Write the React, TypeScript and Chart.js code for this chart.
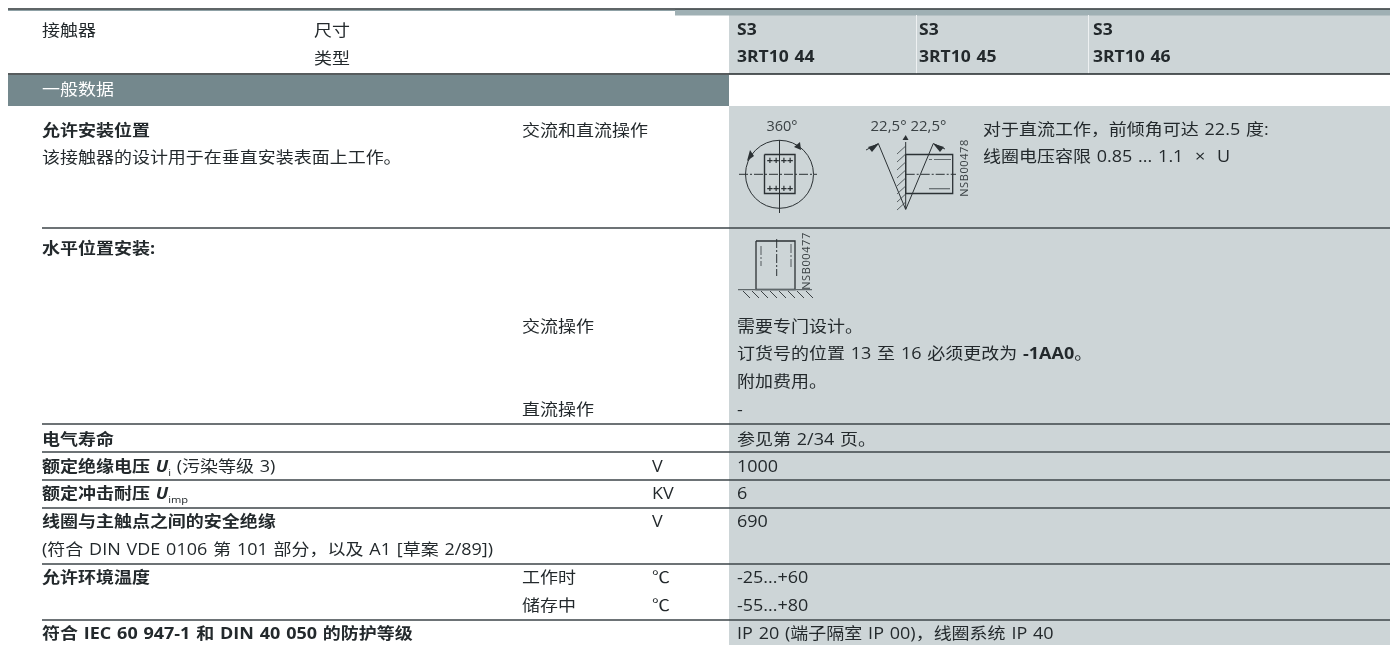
import React, { useEffect, useRef } from "react";
import { Chart, registerables } from "chart.js";

Chart.register(...registerables);

type Run = { t: string; b?: boolean; i?: boolean; sub?: boolean };

// ---------- table content ----------
const headerLeft = ["接触器", "尺寸", "类型"];
const sizes = ["S3", "S3", "S3"];
const types = ["3RT10 44", "3RT10 45", "3RT10 46"];
const sectionTitle = "一般数据";
const mountingTitle = "允许安装位置";
const mountingNote = "该接触器的设计用于在垂直安装表面上工作。";
const mountingMode = "交流和直流操作";
const diagramAngles = ["360°", "22,5° 22,5°"];
const diagramCodes = ["NSB00478", "NSB00477"];
const mountingValue = ["对于直流工作，前倾角可达 22.5 度:", "线圈电压容限 0.85 ... 1.1  ×  U"];
const horizontalTitle = "水平位置安装:";
const operationModes = ["交流操作", "直流操作"];
const horizontalValue: Run[][] = [
  [{ t: "需要专门设计。" }],
  [{ t: "订货号的位置 13 至 16 必须更改为 " }, { t: "-1AA0", b: true }, { t: "。" }],
  [{ t: "附加费用。" }],
  [{ t: "-" }],
];
const lowerLabels: Run[][] = [
  [{ t: "电气寿命", b: true }],
  [{ t: "额定绝缘电压 ", b: true }, { t: "U", b: true, i: true }, { t: "i", sub: true }, { t: " (污染等级 3)" }],
  [{ t: "额定冲击耐压 ", b: true }, { t: "U", b: true, i: true }, { t: "imp", sub: true }],
  [{ t: "线圈与主触点之间的安全绝缘", b: true }],
  [{ t: "(符合 DIN VDE 0106 第 101 部分，以及 A1 [草案 2/89])" }],
  [{ t: "允许环境温度", b: true }],
  [{ t: "" }],
  [{ t: "符合 IEC 60 947-1 和 DIN 40 050 的防护等级", b: true }],
];
const lowerConditions = ["", "", "", "", "", "工作时", "储存中", ""];
const lowerUnits = ["", "V", "KV", "V", "", "℃", "℃", ""];
const lowerValues = ["参见第 2/34 页。", "1000", "6", "690", "", "-25...+60", "-55...+80", "IP 20 (端子隔室 IP 00)，线圈系统 IP 40"];

// ---------- layout ----------
const lowerRowY = [440, 467, 494, 522, 550, 578, 606, 634];
const ruleYs = [228, 424, 452, 480, 508, 564, 620];
const colName = 42, colMode = 522, colUnit = 652, colValue = 737;
const colTypes = [737, 919, 1093];
const TEXT = "#23292c";
const LIGHT = "#cdd5d7";
const SANS = '"Open Sans", "Noto Sans CJK SC", sans-serif';
const STRETCH = 1.16;

const seg = (pts: number[][]) => pts.map(([x, y]) => ({ x, y }));
const ruleSets = [
  { data: seg([[8, 9], [1390, 9]]), borderColor: "#2a3235", borderWidth: 1.4 },
  { data: seg([[8, 10.5], [675, 10.5]]), borderColor: "#8fa1a6", borderWidth: 1.2 },
  { data: seg([[8, 74], [1390, 74]]), borderColor: "#1f2628", borderWidth: 1.4 },
  ...ruleYs.map((y) => ({ data: seg([[42, y], [1390, y]]), borderColor: "#3c4548", borderWidth: 1.4 })),
];

const tablePlugin = {
  id: "tableCells",
  beforeDatasetsDraw(chart: any) {
    const { ctx, scales } = chart;
    const X = (v: number) => scales.x.getPixelForValue(v);
    const Y = (v: number) => scales.y.getPixelForValue(v);
    const rect = (x0: number, y0: number, x1: number, y1: number, c: string) => {
      ctx.fillStyle = c;
      ctx.fillRect(X(x0), Y(y0), X(x1) - X(x0), Y(y1) - Y(y0));
    };
    rect(729, 15, 1390, 74, LIGHT);
    rect(675, 9.5, 1390, 15.5, "#9fb0b4");
    rect(916, 15, 917, 74, "#eef1f2");
    rect(1088, 15, 1089, 74, "#eef1f2");
    rect(8, 75, 729, 106, "#74888d");
    rect(729, 106, 1390, 645, LIGHT);
  },
  afterDatasetsDraw(chart: any) {
    const { ctx, scales } = chart;
    const X = (v: number) => scales.x.getPixelForValue(v);
    const Y = (v: number) => scales.y.getPixelForValue(v);

    const fontOf = (r: Run, size: number) =>
      `${r.i ? "italic " : ""}${r.b ? "bold " : ""}${size}px ${SANS}`;
    const text = (x: number, y: number, runs: Run[] | string, color = TEXT, size = 15.5, sx = STRETCH) => {
      const list: Run[] = typeof runs === "string" ? [{ t: runs }] : runs;
      ctx.save();
      ctx.translate(X(x), Y(y) + 0.8);
      ctx.scale(sx, 1);
      ctx.textBaseline = "middle";
      ctx.textAlign = "left";
      ctx.fillStyle = color;
      (ctx as any).wordSpacing = "1px";
      let cx = 0;
      for (const r of list) {
        const sz = r.sub ? size * 0.62 : size;
        ctx.font = fontOf(r, sz);
        ctx.fillText(r.t, cx, r.sub ? 5 : 0);
        cx += ctx.measureText(r.t).width;
      }
      ctx.restore();
    };
    const bold = (t: string): Run[] => [{ t, b: true }];

    // header
    text(colName, 31, headerLeft[0]);
    text(314, 31, headerLeft[1]);
    text(314, 59, headerLeft[2]);
    sizes.forEach((s, i) => text(colTypes[i], 30, bold(s), TEXT, 15.5, 1.13));
    types.forEach((s, i) => text(colTypes[i], 57, bold(s), TEXT, 15.5, 1.13));
    text(colName, 90, sectionTitle, "#ffffff");

    // mounting
    text(colName, 131, bold(mountingTitle));
    text(colName, 158, mountingNote);
    text(colMode, 131, mountingMode);
    text(983, 130, mountingValue[0]);
    text(983, 157, mountingValue[1]);
    text(colName, 249, bold(horizontalTitle));
    text(colMode, 327, operationModes[0]);
    text(colMode, 410, operationModes[1]);
    const hy = [327, 354, 382, 410];
    horizontalValue.forEach((r, i) => text(colValue, hy[i], r));

    // lower rows
    lowerLabels.forEach((r, i) => text(colName, lowerRowY[i], r));
    lowerConditions.forEach((s, i) => s && text(colMode, lowerRowY[i], s));
    lowerUnits.forEach((s, i) => s && text(colUnit, lowerRowY[i], s));
    lowerValues.forEach((s, i) => s && text(colValue, lowerRowY[i], s));

    // diagrams
    const line = (pts: number[][], w = 1, dash: number[] = [], c = "#2b3134") => {
      ctx.save();
      ctx.strokeStyle = c;
      ctx.lineWidth = w;
      ctx.setLineDash(dash);
      ctx.beginPath();
      pts.forEach(([x, y], i) => (i ? ctx.lineTo(X(x), Y(y)) : ctx.moveTo(X(x), Y(y))));
      ctx.stroke();
      ctx.restore();
    };
    const tri = (pts: number[][]) => {
      ctx.fillStyle = "#2b3134";
      ctx.beginPath();
      pts.forEach(([x, y], i) => (i ? ctx.lineTo(X(x), Y(y)) : ctx.moveTo(X(x), Y(y))));
      ctx.closePath();
      ctx.fill();
    };
    const small = (cx: number, cy: number, t: string, rot = 0, size = 12.5, spacing = "0px") => {
      ctx.save();
      ctx.translate(X(cx), Y(cy));
      ctx.rotate(rot);
      (ctx as any).letterSpacing = spacing;
      ctx.font = `${size}px ${SANS}`;
      ctx.fillStyle = "#3a4144";
      ctx.textAlign = "center";
      ctx.textBaseline = "middle";
      ctx.fillText(t, 0, 0);
      ctx.restore();
    };
    const dashDot = [9, 2, 2, 2];

    // first diagram: circle
    small(782, 127, diagramAngles[0], 0, 14.5);
    ctx.strokeStyle = "#2b3134";
    ctx.lineWidth = 1;
    ctx.beginPath();
    ctx.arc(X(779.5), Y(174.3), 34, 0, Math.PI * 2);
    ctx.stroke();
    line([[764.5, 154.5], [795, 154.5], [795, 193.5], [764.5, 193.5], [764.5, 154.5]], 1.4);
    line([[739, 174.3], [817, 174.3]], 1, dashDot);
    line([[779.5, 140], [779.5, 213]], 1);
    [160.7, 188.7].forEach((y) => {
      ctx.save();
      ctx.font = `bold 11px ${SANS}`;
      ctx.fillStyle = "#2b3134";
      ctx.textBaseline = "middle";
      ctx.textAlign = "center";
      ctx.fillText("++", X(773), Y(y));
      ctx.fillText("++", X(787), Y(y));
      ctx.restore();
    });
    tri([[747, 161], [750, 150], [754, 156]]);
    tri([[800, 142], [794, 147], [801, 150]]);

    // second diagram: tilt
    small(908.5, 127, diagramAngles[1], 0, 15);
    line([[878.3, 143.5], [905.7, 209.5], [933.3, 143.5]], 1);
    line([[866, 150], [878.3, 143.5]], 1);
    line([[945, 149], [933.3, 143.5]], 1);
    tri([[879, 143.5], [868, 147], [872, 152]]);
    tri([[933, 143.5], [944, 147], [940, 152]]);
    line([[905.7, 142], [905.7, 209]], 1);
    tri([[902.5, 140], [908.5, 140], [905.7, 135]]);
    line([[905.7, 154.5], [952.7, 154.5], [952.7, 193.5], [905.7, 193.5], [905.7, 154.5]], 1.3);
    line([[905.7, 174.3], [956, 174.3]], 1, dashDot);
    line([[929, 159.5], [951, 159.5]], 1.2, [3, 2, 16, 0], "#60686b");
    line([[929, 188.7], [950, 188.7]], 1.2, [], "#60686b");
    [146, 154, 162, 170, 178, 186, 194, 202].forEach((y) =>
      line([[897, y + 8], [905.7, y]], 0.8, [], "#3a4144"),
    );
    small(965, 168, diagramCodes[0], -Math.PI / 2, 11, "0.6px");

    // third diagram: horizontal mounting
    line([[756, 241], [795, 241], [795, 289.5], [756, 289.5], [756, 241]], 1.3);
    line([[738, 289.7], [812, 289.7]], 1.3, [], "#60686b");
    [743, 752, 761, 770, 779, 788, 797, 806].forEach((x) =>
      line([[x, 291], [x + 7, 298]], 0.9),
    );
    line([[761, 246], [761, 266]], 1, dashDot, "#53595c");
    line([[776.7, 239], [776.7, 276]], 1, dashDot);
    line([[791, 244], [791, 267]], 1, dashDot, "#53595c");
    small(806.5, 261, diagramCodes[1], -Math.PI / 2, 11, "0.6px");
  },
};

export default function App() {
  const ref = useRef<HTMLCanvasElement | null>(null);
  useEffect(() => {
    document.body.style.margin = "0";
    const chart = new Chart(ref.current as HTMLCanvasElement, {
      type: "scatter",
      data: {
        datasets: ruleSets.map((r) => ({
          ...r,
          showLine: true,
          pointRadius: 0,
          clip: false,
        })) as any,
      },
      options: {
        animation: false,
        responsive: false,
        layout: { padding: 0 },
        plugins: { legend: { display: false }, tooltip: { enabled: false }, title: { display: false } },
        scales: {
          x: { type: "linear", min: 0, max: 1390, display: false },
          y: { type: "linear", min: 0, max: 645, reverse: true, display: false },
        },
      },
      plugins: [tablePlugin],
    });
    return () => chart.destroy();
  }, []);
  return (
    <canvas
      ref={ref}
      width={1390}
      height={645}
      style={{ display: "block", width: 1390, height: 645 }}
    />
  );
}
